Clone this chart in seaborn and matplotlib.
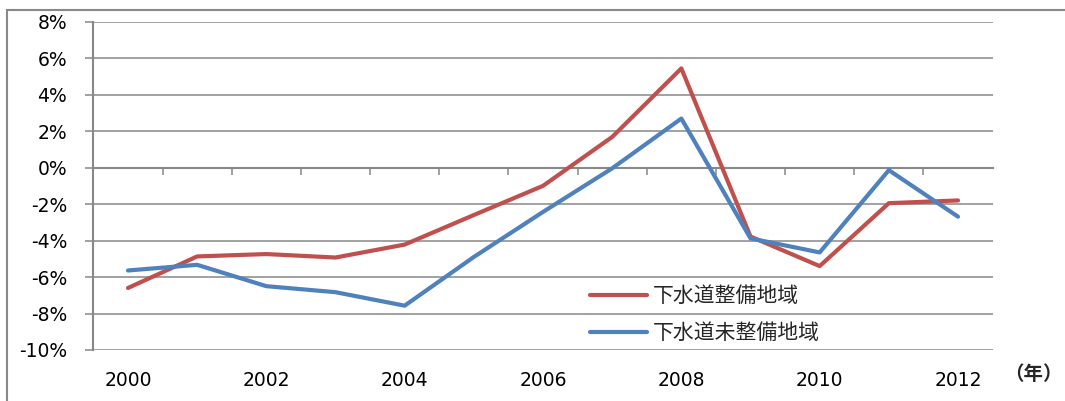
import matplotlib
matplotlib.use("Agg")
import matplotlib.pyplot as plt
from matplotlib.patches import Rectangle
from matplotlib.ticker import FixedLocator, FuncFormatter, NullFormatter
import numpy as np
import pandas as pd
import seaborn as sns

# Annual change rate (%) by area type
years = [2000, 2001, 2002, 2003, 2004, 2005, 2006, 2007, 2008, 2009, 2010, 2011, 2012]
sewered = [-6.6, -4.87, -4.74, -4.93, -4.22, -2.6, -1.0, 1.68, 5.44, -3.78, -5.4, -1.95, -1.8]
unsewered = [-5.64, -5.33, -6.5, -6.83, -7.57, -4.9, -2.43, -0.04, 2.69, -3.88, -4.65, -0.14, -2.69]
series_names = ["下水道整備地域", "下水道未整備地域"]
year_labels = [2000, 2002, 2004, 2006, 2008, 2010, 2012]
y_ticks = [-10, -8, -6, -4, -2, 0, 2, 4, 6, 8]
unit_label = "（年）"

df = pd.DataFrame({
    "year": years * 2,
    "rate": sewered + unsewered,
    "area": [series_names[0]] * len(years) + [series_names[1]] * len(years),
})

sns.set_style("white")
plt.rcParams["font.family"] = ["DejaVu Sans", "Noto Sans CJK JP"]

W, H = 1065, 401
fig = plt.figure(figsize=(W / 100, H / 100), dpi=100)
left, right, top, bottom = 93.4, 992.6, 21.7, 350.0
ax = fig.add_axes([left / W, 1 - bottom / H, (right - left) / W, (bottom - top) / H])

grid_c = "#888888"
palette = {series_names[0]: "#C0504D", series_names[1]: "#4F81BD"}
sns.lineplot(data=df, x="year", y="rate", hue="area", palette=palette,
             linewidth=3.0, ax=ax, legend=True, zorder=3)

ax.set_xlim(years[0] - 0.5, years[-1] + 0.5)
ax.set_ylim(y_ticks[0], y_ticks[-1])
ax.set_xlabel("")
ax.set_ylabel("")

# y axis: percent labels, gridlines at every tick
ax.yaxis.set_major_locator(FixedLocator(y_ticks))
ax.yaxis.set_major_formatter(FuncFormatter(lambda v, p: f"{int(v)}%"))
ax.grid(axis="y", color=grid_c, linewidth=1.1, zorder=0)
ax.tick_params(axis="y", length=6, width=1.1, color=grid_c, pad=13,
               labelsize=13.5, labelcolor="black", left=True)

# x axis labels along the bottom, no tick marks there
ax.xaxis.set_major_locator(FixedLocator(year_labels))
ax.tick_params(axis="x", length=0, pad=15, labelsize=13.5, labelcolor="black")

for s in ["top", "right", "bottom"]:
    ax.spines[s].set_visible(False)
ax.spines["left"].set_color(grid_c)
ax.spines["left"].set_linewidth(1.5)

# category axis drawn through 0% with ticks between years, pointing down
zero_frac = (0 - y_ticks[0]) / (y_ticks[-1] - y_ticks[0])
sec = ax.secondary_xaxis(zero_frac)
sec.xaxis.set_major_locator(FixedLocator([y + 0.5 for y in years[:-1]]))
sec.xaxis.set_major_formatter(NullFormatter())
sec.tick_params(axis="x", which="both", length=5, width=1.1, color=grid_c,
                direction="in", labelbottom=False, labeltop=False)
for s in sec.spines.values():
    s.set_color(grid_c)
    s.set_linewidth(1.5)

# unit label
fig.text(1033 / W, 1 - 374 / H, unit_label, ha="center", va="center",
         fontsize=14, fontweight="bold", family=["Noto Sans CJK JP", "DejaVu Sans"])

# legend
sns.move_legend(ax, "upper left", bbox_to_anchor=(590 / W, 1 - 285 / H),
                bbox_transform=fig.transFigure, frameon=False, title=None,
                handlelength=2.75, handletextpad=0.25, labelspacing=0.72,
                borderpad=0, borderaxespad=0,
                prop={"family": ["Noto Sans CJK JP", "DejaVu Sans"], "size": 15})

# chart area frame
fig.add_artist(Rectangle((7 / W, -0.2), 1.2, 1.2 - 10 / H, transform=fig.transFigure,
                         facecolor="none", edgecolor=grid_c, linewidth=1.5))

fig.savefig("out.png", dpi=100)
